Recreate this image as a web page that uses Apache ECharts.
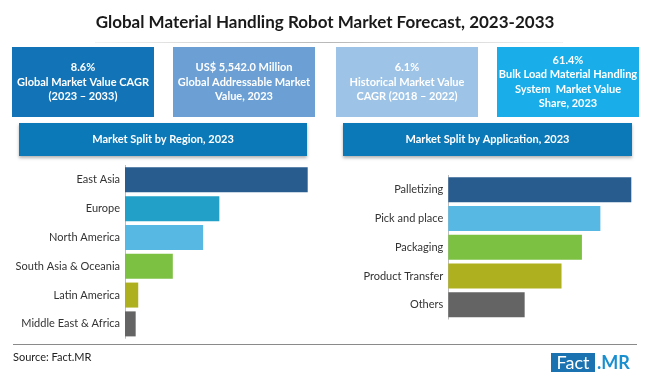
<!DOCTYPE html>
<html>
<head>
<meta charset="utf-8">
<script src="https://cdn.jsdelivr.net/npm/echarts@6/dist/echarts.min.js"></script>
<style>html,body{margin:0;padding:0;background:#fff;}#c{width:650px;height:377px;}</style>
</head>
<body>
<div id="c"></div>
<script>
// Data
var regionCategories = ['East Asia', 'Europe', 'North America', 'South Asia & Oceania', 'Latin America', 'Middle East & Africa'];
var regionValues = [42.8, 22.1, 18.3, 11.2, 3.1, 2.5];
var regionColors = ['#285c8f', '#23a0c7', '#58b8e4', '#7dc143', '#afb01f', '#646464'];

var appCategories = ['Palletizing', 'Pick and place', 'Packaging', 'Product Transfer', 'Others'];
var appValues = [27.8, 23.1, 20.3, 17.2, 11.6];
var appColors = ['#285c8f', '#58b8e4', '#7dc143', '#afb01f', '#646464'];

var titleText = 'Global Material Handling Robot Market Forecast, 2023-2033';
var boxTexts = [
  '8.6%\nGlobal Market Value CAGR\n(2023 \u2013 2033)',
  'US$ 5,542.0 Million\nGlobal Addressable Market\nValue, 2023',
  '6.1%\nHistorical Market Value\nCAGR (2018 \u2013 2022)',
  '61.4%\nBulk Load Material Handling\nSystem  Market Value\nShare, 2023'
];
var headerTexts = ['Market Split by Region, 2023', 'Market Split by Application, 2023'];
var sourceText = 'Source: Fact.MR';

var chart = echarts.init(document.getElementById('c'), null, {renderer: 'canvas'});
var FONT = 'Lato';

function box(x, y, w, h, color, text) {
  return {
    type: 'group',
    children: [
      {type: 'rect', shape: {x: x, y: y, width: w, height: h}, style: {fill: color}},
      {type: 'text', x: x + w / 2, y: y + h / 2,
        style: {text: text, fill: '#fff', font: 'bold 11px ' + FONT, align: 'center', verticalAlign: 'middle', lineHeight: 14.2}}
    ]
  };
}

var boxColors = ['#1273b6', '#6c9fd3', '#9dc3e6', '#19aeea'];
var boxX = [12, 173, 336, 497];
var graphics = [];
graphics.push({type: 'text', x: 325, y: 23, style: {text: titleText, fill: '#1a1a1a', font: 'bold 17px ' + FONT, align: 'center', verticalAlign: 'middle'}});
graphics.push({type: 'rect', shape: {x: 95, y: 42, width: 468, height: 1},
  style: {fill: new echarts.graphic.LinearGradient(0, 0, 1, 0, [{offset: 0, color: 'rgba(190,190,190,0.2)'}, {offset: 0.5, color: '#b8b8b8'}, {offset: 1, color: 'rgba(190,190,190,0.2)'}])}});
for (var i = 0; i < 4; i++) graphics.push(box(boxX[i], 47, 142, 70, boxColors[i], boxTexts[i]));

function header(x, w, text) {
  return {
    type: 'group',
    children: [
      {type: 'rect', shape: {x: x, y: 123, width: w, height: 33},
        style: {fill: '#0b78b8', shadowBlur: 3, shadowOffsetY: 2, shadowColor: 'rgba(0,0,0,0.3)'}},
      {type: 'text', x: x + w / 2, y: 139.5,
        style: {text: text, fill: '#fff', font: 'bold 11px ' + FONT, align: 'center', verticalAlign: 'middle'}}
    ]
  };
}
graphics.push(header(19, 288, headerTexts[0]));
graphics.push(header(343, 289, headerTexts[1]));
graphics.push({type: 'rect', shape: {x: 13, y: 344, width: 624, height: 1}, style: {fill: '#8a8a8a'}});
graphics.push({type: 'text', x: 13, y: 357, style: {text: sourceText, fill: '#222', font: '11px ' + FONT, verticalAlign: 'middle'}});
graphics.push({type: 'rect', shape: {x: 551, y: 353, width: 44, height: 19}, style: {fill: '#1a72b0'}});
graphics.push({type: 'text', x: 573, y: 363, style: {text: 'Fact', fill: '#fff', font: '18px ' + FONT, align: 'center', verticalAlign: 'middle'}});
graphics.push({type: 'text', x: 597, y: 363, style: {text: '.MR', fill: '#1a8fd0', font: 'bold 18px ' + FONT, verticalAlign: 'middle'}});

function catAxis(idx, cats) {
  return {
    type: 'category', gridIndex: idx, data: cats, inverse: true,
    axisLine: {show: true, lineStyle: {color: '#bdbdbd', width: 1}},
    axisTick: {show: false},
    axisLabel: {color: '#333', fontSize: 11, fontFamily: FONT, margin: 5}
  };
}
function valAxis(idx, max) {
  return {type: 'value', gridIndex: idx, min: 0, max: max, show: false, splitLine: {show: false}};
}

var option = {
  backgroundColor: '#fff',
  animation: false,
  grid: [
    {left: 125, top: 165.4, width: 182.7, height: 172.9},
    {left: 448.3, top: 175.4, width: 183, height: 143.7}
  ],
  xAxis: [valAxis(0, regionValues[0]), valAxis(1, appValues[0])],
  yAxis: [catAxis(0, regionCategories), catAxis(1, appCategories)],
  series: [
    {type: 'bar', xAxisIndex: 0, yAxisIndex: 0, barWidth: 25,
      data: regionValues.map(function (v, i) { return {value: v, itemStyle: {color: regionColors[i]}}; })},
    {type: 'bar', xAxisIndex: 1, yAxisIndex: 1, barWidth: 25,
      data: appValues.map(function (v, i) { return {value: v, itemStyle: {color: appColors[i]}}; })}
  ],
  graphic: graphics
};
chart.setOption(option);
</script>
</body>
</html>
